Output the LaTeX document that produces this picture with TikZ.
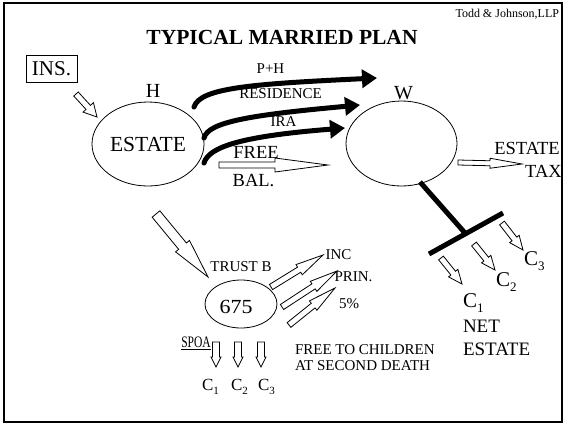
\documentclass[tikz,border=0pt]{standalone}
\usepackage{fontspec}
\setmainfont{Liberation Serif}
\usetikzlibrary{calc,shapes.geometric,arrows.meta}

\newcommand\fsz[1]{\fontsize{#1}{#1}\selectfont}
\newcommand\xs[2]{\scalebox{#1}[1]{#2}}
% C with a lowered index: index, index size, drop
\newcommand\csub[3]{C\raisebox{#3}{\fsz{#2}#1}}

\begin{document}
\begin{tikzpicture}[x=1pt,y=-1pt,
  lbl/.style={inner sep=0pt, outer sep=0pt},
  blob/.style={draw, line width=0.8pt, ellipse, inner sep=0pt},
  % hollow block arrow: half shaft width, half head width, head length
  hollow/.style n args={3}{draw, fill=white, line width=0.8pt, line join=miter,
    to path={
      ($(\tikztostart)!#1pt!90:(\tikztotarget)$)
      -- ($(\tikztotarget)!#3pt!(\tikztostart)!#1pt!-90:(\tikztostart)$)
      -- ($(\tikztotarget)!#3pt!(\tikztostart)!#2pt!-90:(\tikztostart)$)
      -- (\tikztotarget)
      -- ($(\tikztotarget)!#3pt!(\tikztostart)!#2pt!90:(\tikztostart)$)
      -- ($(\tikztotarget)!#3pt!(\tikztostart)!#1pt!90:(\tikztostart)$)
      -- ($(\tikztostart)!#1pt!-90:(\tikztotarget)$)
      -- cycle}},
  blk/.style={line width=5pt, line cap=round, -{Triangle[length=15pt,width=18pt]}},
  bar/.style={line width=5pt}]

\useasboundingbox (0,0) rectangle (565,424);
\draw[line width=2.5pt] (4,3) rectangle (562,422);

% headings
\node[lbl, anchor=east] (firm) at (559,14) {\fsz{12}Todd \& Johnson,LLP};
\node[lbl] (title) at (282,37.5) {\fsz{21.5}\bfseries TYPICAL MARRIED PLAN};

% estates of the spouses
\node[draw, line width=0.8pt, minimum width=51pt, minimum height=27pt, inner sep=0pt] (ins) at (51.5,68.5) {\fsz{21}INS.};
\node[blob, minimum width=112pt, minimum height=84pt] (h) at (148,144) {\fsz{21.5}ESTATE};
\node[lbl] (hlab) at (153,91) {\fsz{20}H};
\node[blob, minimum width=111pt, minimum height=85pt] (w) at (401.5,143.5) {};
\node[lbl] (wlab) at (403.5,93) {\fsz{20}W};

% transfers from H to W
\coordinate (phs) at (194,107);  \coordinate (phe) at (377,78);
\coordinate (rss) at (204,138);  \coordinate (rse) at (360,105);
\coordinate (iras) at (204,163); \coordinate (irae) at (345,128);
\draw[blk] (phs) .. controls (200,88) and (250,84) .. (phe);
\draw[blk] (rss) .. controls (208,122) and (250,115) .. (rse);
\draw[blk] (iras) .. controls (209,146) and (245,136) .. (irae);
\node[lbl] (lph) at (270.5,68.5) {\fsz{15}P+H};
\node[lbl] (lres) at (280.5,94) {\fsz{15}RESIDENCE};
\node[lbl] (lira) at (283.5,122) {\fsz{15}IRA};

\coordinate (fbA) at (219,165); \coordinate (fbB) at (328,165);
\path[hollow={3}{7}{53}] (fbA) to (fbB);
\node[lbl] (free) at (256,152.5) {\fsz{18.5}FREE};
\node[lbl] (bal) at (253.5,180.5) {\fsz{18.5}BAL.};

\coordinate (insA) at (76,94); \coordinate (insB) at (97,117);
\path[hollow={3}{7}{13}] (insA) to (insB);

% estate tax at second death
\coordinate (etA) at (458,162.5); \coordinate (etB) at (522,164);
\path[hollow={2.5}{5}{32}] (etA) to (etB);
\node[lbl] (est) at (527,148) {\fsz{18.5}ESTATE};
\node[lbl] (tax) at (543.5,171.5) {\fsz{18.5}TAX};

% net estate to the children
\coordinate (wb) at (420,182); \coordinate (jn) at (465,233);
\coordinate (bl) at (429,254); \coordinate (br) at (503,213);
\draw[bar] (wb) -- (jn);
\draw[bar] (bl) -- (br);
\coordinate (c1a) at (441,258); \coordinate (c1b) at (462,284);
\coordinate (c2a) at (474,244); \coordinate (c2b) at (495,270);
\coordinate (c3a) at (502,223); \coordinate (c3b) at (523,250);
\path[hollow={3}{6}{14}] (c1a) to (c1b);
\path[hollow={3}{6}{14}] (c2a) to (c2b);
\path[hollow={3}{6}{14}] (c3a) to (c3b);
\node[lbl, anchor=base west] (rc1) at (463,307) {\fsz{21}\csub{1}{13}{-5pt}};
\node[lbl, anchor=base west] (rc2) at (496,286) {\fsz{21}\csub{2}{13}{-5pt}};
\node[lbl, anchor=base west] (rc3) at (524,265) {\fsz{21}\csub{3}{13}{-5pt}};
\node[lbl, anchor=west] (net) at (463,326.5) {\fsz{19}NET};
\node[lbl, anchor=west] (nest) at (463,349.5) {\fsz{19}ESTATE};

% credit shelter trust
\coordinate (tbA) at (156,214); \coordinate (tbB) at (208,277);
\path[hollow={5}{9}{40}] (tbA) to (tbB);
\node[blob, minimum width=72pt, minimum height=48pt] (tb) at (241,304) {};
\node[lbl] (n675) at (236,307) {\fsz{20}\xs{1.1}{675}};
\node[lbl] (tblab) at (241,267) {\fsz{15}TRUST B};

\coordinate (incA) at (271,287); \coordinate (incB) at (323,255);
\coordinate (prA) at (282,307);  \coordinate (prB) at (337,271);
\coordinate (fpA) at (289,325);  \coordinate (fpB) at (335,288);
\path[hollow={3}{6}{28}] (incA) to (incB);
\path[hollow={3}{6}{28}] (prA) to (prB);
\path[hollow={3}{6}{28}] (fpA) to (fpB);
\node[lbl] (inc) at (338.5,255) {\fsz{15}INC};
\node[lbl] (prin) at (353.5,277) {\fsz{15}PRIN.};
\node[lbl] (pct) at (349,304) {\fsz{15}5\%};

\node[lbl] (spoa) at (196,343) {\fsz{16}\xs{0.72}{\underline{SPOA}}};
\coordinate (d1a) at (216,342); \coordinate (d1b) at (216,367);
\coordinate (d2a) at (238,342); \coordinate (d2b) at (238,367);
\coordinate (d3a) at (261,342); \coordinate (d3b) at (261,367);
\path[hollow={3.5}{5}{10}] (d1a) to (d1b);
\path[hollow={3.5}{5}{10}] (d2a) to (d2b);
\path[hollow={3.5}{5}{10}] (d3a) to (d3b);
\node[lbl, anchor=base west] (lc1) at (202,390) {\fsz{17}\csub{1}{11}{-4pt}};
\node[lbl, anchor=base west] (lc2) at (231,390) {\fsz{17}\csub{2}{11}{-4pt}};
\node[lbl, anchor=base west] (lc3) at (258,390) {\fsz{17}\csub{3}{11}{-4pt}};

\node[lbl, anchor=west] (free1) at (295,350) {\fsz{15}FREE TO CHILDREN};
\node[lbl, anchor=west] (free2) at (295,366) {\fsz{15}AT SECOND DEATH};
\end{tikzpicture}
\end{document}
